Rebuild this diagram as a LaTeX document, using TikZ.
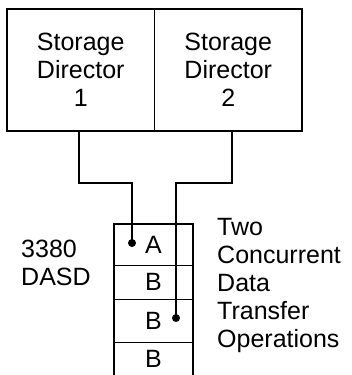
\documentclass[tikz,border=0pt]{standalone}
\usepackage{fontspec}
\setmainfont{Liberation Sans}
\begin{document}
\begin{tikzpicture}[x=1pt,y=-1pt,
  lbl/.style={font=\fontsize{25}{28}\selectfont, align=center, inner sep=0pt},
  half/.style={minimum width=147.5pt, minimum height=122pt, inner sep=0pt, lbl},
  cell/.style={minimum width=79pt, inner sep=0pt, lbl},
  wire/.style={line width=1.6pt},
  dot/.style={circle, fill=black, inner sep=0pt, minimum size=8pt}]
\useasboundingbox (0,0) rectangle (352,375);
% storage directors
\node[half] (sd1) at (80.75,70) {Storage\\Director\\1};
\node[half] (sd2) at (228.25,70) {Storage\\Director\\2};
\draw[line width=1.5pt] (sd1.north west) rectangle (sd2.south east);
\draw[line width=0.8pt] (sd1.north east) -- (sd1.south east);
% DASD stack
\node[cell, minimum height=41pt] (cA) at (153.5,244.5) {A};
\node[cell, minimum height=34pt] (cB1) at (153.5,282) {B};
\node[cell, minimum height=43pt] (cB2) at (153.5,320.5) {B};
\node[cell, minimum height=33pt] (cB3) at (153.5,358.5) {B};
\draw[line width=1.5pt] (cB3.south west) -- (cA.north west) -- (cA.north east) -- (cB3.south east);
\draw[line width=0.8pt] (cA.south west) -- (cA.south east)
  (cB1.south west) -- (cB1.south east)
  (cB2.south west) -- (cB2.south east);
% dots and wires
\node[dot] (dA) at (132,243) {};
\node[dot] (dB) at (176,318) {};
\draw[wire] ([xshift=-1.75pt]sd1.south) -- ++(0,52) -| (dA.center);
\draw[wire] ([xshift=3.75pt]sd2.south) -- ++(0,52) -| (dB.center);
% labels
\node[lbl, align=left, anchor=west] (dasd) at (21,263) {3380\\DASD};
\node[lbl, align=left, anchor=north west] (ops) at (217,218) {Two\\Concurrent\\Data\\Transfer\\Operations};
\end{tikzpicture}
\end{document}
